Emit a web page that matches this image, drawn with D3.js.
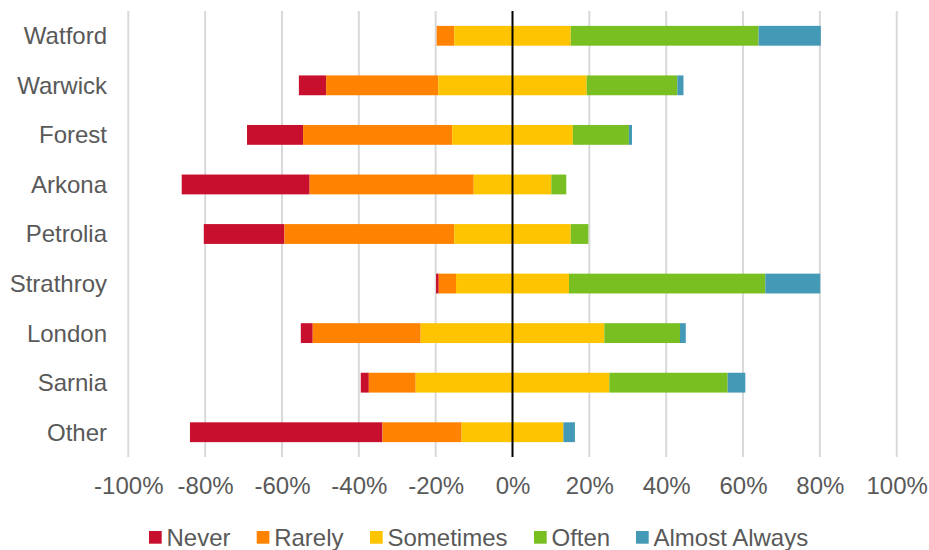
<!DOCTYPE html>
<html>
<head>
<meta charset="utf-8">
<script src="https://cdn.jsdelivr.net/npm/d3@7"></script>
<style>
  body { margin: 0; background: #fff; }
  text { font-family: "Liberation Sans", Arial, sans-serif; fill: #595959; }
</style>
</head>
<body>
<svg id="chart"></svg>
<script>
const categories = ["Watford", "Warwick", "Forest", "Arkona", "Petrolia", "Strathroy", "London", "Sarnia", "Other"];
const seriesNames = ["Never", "Rarely", "Sometimes", "Often", "Almost Always"];
const seriesColors = ["#c8102e", "#ff8200", "#ffc400", "#7abf22", "#4499b6"];

// percentages per category, in the order of categories
const never        = [0.0,  7.1, 14.6, 33.3, 21.0,  0.7,  3.1,  2.1, 50.1];
const rarely       = [4.6, 29.2, 38.8, 42.7, 44.2,  4.5, 28.1, 12.2, 20.6];
const sometimes    = [30.3, 38.6, 31.4, 20.2, 30.3, 29.4, 47.8, 50.4, 26.5];
const often        = [48.9, 23.6, 14.6,  3.9,  4.6, 51.1, 19.7, 30.8,  0.0];
const almostAlways = [16.2,  1.6,  0.8,  0.0,  0.0, 14.3,  1.5,  4.6,  3.0];

const tickValues = [-1, -0.8, -0.6, -0.4, -0.2, 0, 0.2, 0.4, 0.6, 0.8, 1];

const width = 929, height = 550;
const margin = { top: 11, right: 32.3, bottom: 93, left: 128.3 };

const svg = d3.select("#chart").attr("width", width).attr("height", height);

const x = d3.scaleLinear()
  .domain([-1, 1])
  .range([margin.left, width - margin.right]);

const y = d3.scaleBand()
  .domain(categories)
  .range([margin.top, height - margin.bottom])
  .paddingInner(0.6)
  .paddingOuter(0.3);

// build segments: never, rarely and half of sometimes go left of zero
const values = [never, rarely, sometimes, often, almostAlways];
const segments = [];
categories.forEach((c, i) => {
  let start = -(never[i] + rarely[i] + sometimes[i] / 2) / 100;
  values.forEach((arr, s) => {
    const v = arr[i] / 100;
    if (v > 0) segments.push({ cat: c, series: s, x0: start, x1: start + v });
    start += v;
  });
});

// vertical gridlines
svg.append("g")
  .selectAll("line")
  .data(tickValues.filter(d => d !== 0))
  .enter()
  .append("line")
  .attr("x1", d => x(d))
  .attr("x2", d => x(d))
  .attr("y1", margin.top)
  .attr("y2", height - margin.bottom)
  .attr("stroke", "#d9d9d9")
  .attr("stroke-width", 2);

// bars
svg.append("g")
  .selectAll("rect")
  .data(segments)
  .enter()
  .append("rect")
  .attr("x", d => x(d.x0))
  .attr("width", d => x(d.x1) - x(d.x0))
  .attr("y", d => y(d.cat))
  .attr("height", y.bandwidth())
  .attr("fill", d => seriesColors[d.series]);

// zero line
svg.append("line")
  .attr("x1", x(0))
  .attr("x2", x(0))
  .attr("y1", margin.top)
  .attr("y2", height - margin.bottom)
  .attr("stroke", "#000")
  .attr("stroke-width", 2);

// x axis labels (plain hyphen for negatives, like the original)
const pct = d => Math.round(d * 100) + "%";
svg.append("g")
  .attr("transform", `translate(0,${height - margin.bottom})`)
  .call(d3.axisBottom(x).tickValues(tickValues).tickFormat(pct).tickSize(0).tickPadding(0))
  .call(g => g.select(".domain").remove())
  .selectAll("text")
  .attr("y", 37)
  .attr("dy", 0)
  .style("font-size", "24px")
  .style("font-family", "Liberation Sans, Arial, sans-serif")
  .attr("fill", "#595959");

// category labels
svg.append("g")
  .selectAll("text")
  .data(categories)
  .enter()
  .append("text")
  .attr("x", 107)
  .attr("y", d => y(d) + y.bandwidth() / 2)
  .attr("dy", "0.35em")
  .attr("text-anchor", "end")
  .style("font-size", "24px")
  .text(d => d);

// legend
const legendX = [149, 256.7, 370, 534, 636];
const legend = svg.append("g");
seriesNames.forEach((name, i) => {
  legend.append("rect")
    .attr("x", legendX[i])
    .attr("y", 531)
    .attr("width", 12.7)
    .attr("height", 12.7)
    .attr("fill", seriesColors[i]);
  legend.append("text")
    .attr("x", legendX[i] + 17.5)
    .attr("y", 545.5)
    .style("font-size", "24px")
    .text(name);
});
</script>
</body>
</html>
